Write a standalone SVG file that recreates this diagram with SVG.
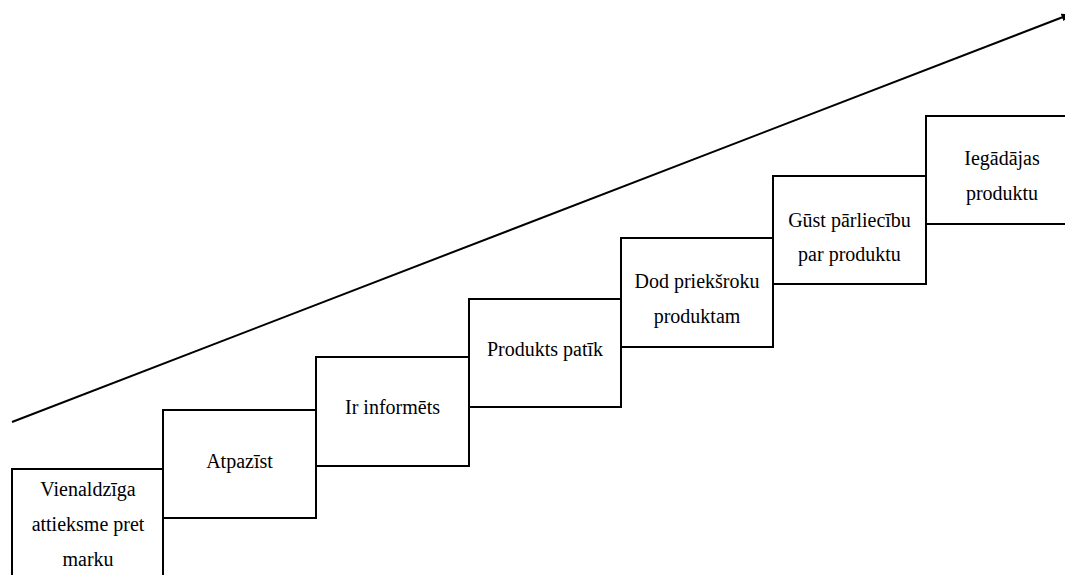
<svg xmlns="http://www.w3.org/2000/svg" width="1065" height="575" viewBox="0 0 1065 575">
<style>
.box{fill:#fff;stroke:#000;stroke-width:2}
.t{font-size:20px;fill:#000;text-anchor:middle}
.ln{stroke:#000;stroke-width:2;fill:none}
</style>
<defs>
<marker id="ah" markerWidth="8" markerHeight="8" refX="1" refY="4" orient="auto" markerUnits="userSpaceOnUse" viewBox="0 0 8 8"><path d="M0,0 L8,4 L0,8 z" fill="#000"/></marker>
</defs>
<rect width="1065" height="575" fill="#fff"/>
<g id="connectors">
<line class="ln" x1="12" y1="422" x2="1063" y2="17" marker-end="url(#ah)"/>
</g>
<g font-family="'Liberation Serif', 'DejaVu Serif', serif">
<g id="n1"><rect class="box" x="12" y="469" width="151" height="120"/>
<text class="t" x="88" y="496">Vienaldzīga</text><text class="t" x="88" y="531">attieksme pret</text><text class="t" x="88" y="566">marku</text></g>
<g id="n2"><rect class="box" x="163" y="410" width="153" height="108"/>
<text class="t" x="239.5" y="468">Atpazīst</text></g>
<g id="n3"><rect class="box" x="316" y="357" width="153" height="109"/>
<text class="t" x="392.5" y="414">Ir informēts</text></g>
<g id="n4"><rect class="box" x="469" y="299" width="152" height="108"/>
<text class="t" x="545" y="356">Produkts patīk</text></g>
<g id="n5"><rect class="box" x="621" y="238" width="152" height="109"/>
<text class="t" x="697" y="288">Dod priekšroku</text><text class="t" x="697" y="323">produktam</text></g>
<g id="n6"><rect class="box" x="773" y="176" width="153" height="108"/>
<text class="t" x="849.5" y="227">Gūst pārliecību</text><text class="t" x="849.5" y="261">par produktu</text></g>
<g id="n7"><rect class="box" x="926" y="116" width="152" height="108"/>
<text class="t" x="1002" y="165">Iegādājas</text><text class="t" x="1002" y="200">produktu</text></g>
</g>
</svg>
